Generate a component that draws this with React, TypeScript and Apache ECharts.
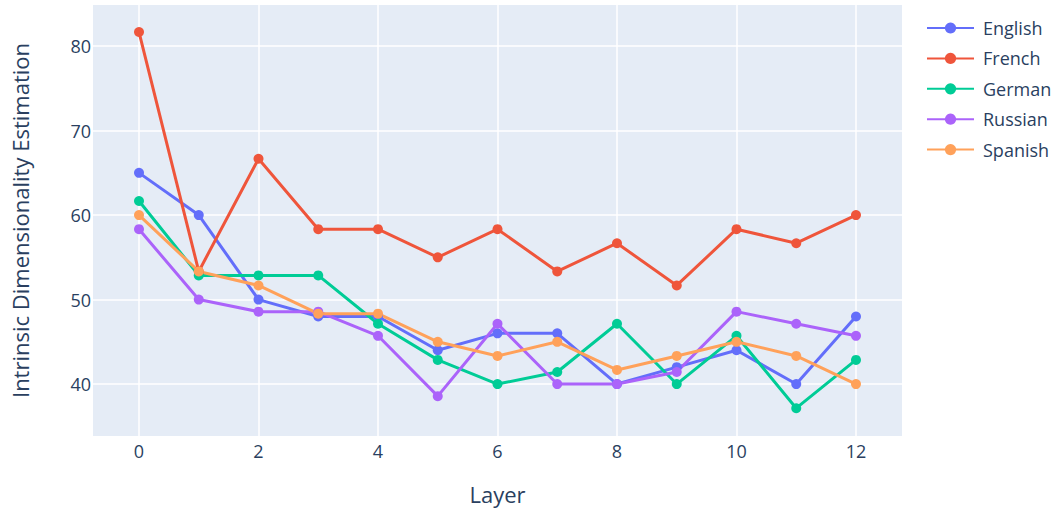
import React, { useEffect, useRef } from "react";
import * as echarts from "echarts";

const layers = [0, 1, 2, 3, 4, 5, 6, 7, 8, 9, 10, 11, 12];
const english = [65, 60, 50, 48, 48, 44, 46, 46, 40, 42, 44, 40, 48];
const french = [81.67, 53.33, 66.67, 58.33, 58.33, 55, 58.33, 53.33, 56.67, 51.67, 58.33, 56.67, 60];
const german = [61.67, 52.86, 52.86, 52.86, 47.14, 42.86, 40, 41.43, 47.14, 40, 45.71, 37.14, 42.86];
const russian = [58.33, 50, 48.57, 48.57, 45.71, 38.57, 47.14, 40, 40, 41.43, 48.57, 47.14, 45.71];
const spanish = [60, 53.33, 51.67, 48.33, 48.33, 45, 43.33, 45, 41.67, 43.33, 45, 43.33, 40];
const xTicks = [0, 2, 4, 6, 8, 10, 12];
const yTicks = [40, 50, 60, 70, 80];

const seriesDefs = [
  { name: "English", data: english, color: "#636EFA" },
  { name: "French", data: french, color: "#EF553B" },
  { name: "German", data: german, color: "#00CC96" },
  { name: "Russian", data: russian, color: "#AB63FA" },
  { name: "Spanish", data: spanish, color: "#FFA15A" },
];

const FONT = "'Open Sans', 'Noto Sans', sans-serif";
const TXT = "#2a3f5f";

export default function App() {
  const ref = useRef<HTMLDivElement>(null);
  useEffect(() => {
    if (!ref.current) return;
    const chart = echarts.init(ref.current, undefined, { renderer: "svg" });
    chart.setOption({
      animation: false,
      backgroundColor: "#ffffff",
      textStyle: { fontFamily: FONT },
      grid: { left: 93, right: 156, top: 5, bottom: 72, backgroundColor: "#E5ECF6", show: true, borderWidth: 0 },
      legend: {
        orient: "vertical",
        left: 926,
        top: 18,
        padding: 0,
        itemWidth: 47,
        itemHeight: 14,
        itemGap: 10.4,
        textStyle: { fontSize: 18, color: TXT, fontFamily: FONT, lineHeight: 20, padding: [0, 0, 0, 4] },
        data: seriesDefs.map((s) => s.name),
      },
      xAxis: {
        type: "value",
        min: -0.77,
        max: 12.77,
        name: "Layer",
        nameLocation: "middle",
        nameGap: 47,
        nameTextStyle: { fontSize: 22, color: TXT, fontFamily: FONT },
        axisLine: { show: false },
        axisTick: { show: false, customValues: xTicks },
        axisLabel: { customValues: xTicks, fontSize: 18, color: TXT, margin: 6, fontFamily: FONT },
        splitLine: { show: true, lineStyle: { color: "#ffffff", width: 1.5 } },
      },
      yAxis: {
        type: "value",
        min: 33.85,
        max: 84.87,
        name: "Intrinsic Dimensionality Estimation",
        nameLocation: "middle",
        nameGap: 62,
        nameTextStyle: { fontSize: 22, color: TXT, fontFamily: FONT },
        axisLine: { show: false },
        axisTick: { show: false, customValues: yTicks },
        axisLabel: { customValues: yTicks, fontSize: 18, color: TXT, margin: 2, fontFamily: FONT },
        splitLine: { show: true, lineStyle: { color: "#ffffff", width: 1.5 } },
      },
      series: seriesDefs.map((s) => ({
        name: s.name,
        type: "line",
        data: layers.map((x, i) => [x, s.data[i]]),
        symbol: "circle",
        symbolSize: 10,
        showSymbol: true,
        color: s.color,
        lineStyle: { width: 3, color: s.color },
        itemStyle: { color: s.color },
      })),
    });
    return () => chart.dispose();
  }, []);
  return <div ref={ref} style={{ position: "fixed", left: 0, top: 0, width: 1058, height: 510 }} />;
}
